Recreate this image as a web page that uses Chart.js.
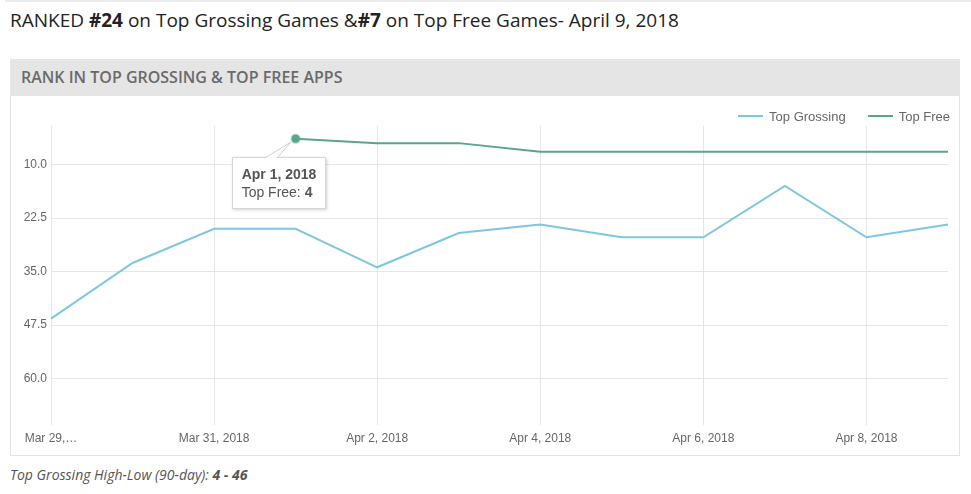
<!DOCTYPE html>
<html>
<head>
<meta charset="utf-8">
<script src="https://cdn.jsdelivr.net/npm/chart.js@4.4.1/dist/chart.umd.min.js"></script>
<style>
  body { margin: 0; background: #fff; width: 971px; height: 494px; position: relative; overflow: hidden; }
  .rule { position: absolute; left: 5px; top: 0; width: 966px; border-top: 2px solid #ececec; }
  .headline { position: absolute; left: 10px; top: 7px; font: 19px "Open Sans", sans-serif; color: #222; white-space: nowrap; }
  .panel-head { position: absolute; left: 10px; top: 59px; width: 950px; height: 37px; background: #e5e5e5; }
  .panel-head span { position: absolute; left: 11px; top: 7px; font: 600 16px "Open Sans", sans-serif; color: #6a6a6a; white-space: nowrap; }
  .panel-body { position: absolute; left: 10px; top: 96px; width: 948px; height: 359px; border: 1px solid #e3e3e3; border-top: none; }
  .chart-box { position: absolute; left: 11px; top: 97px; width: 948px; height: 358px; }
  .legend { position: absolute; top: 107px; right: 21px; font: 13px "Liberation Sans", Arial, sans-serif; color: #666; white-space: nowrap; }
  .legend span { display: inline-block; vertical-align: middle; }
  .legend .swatch { width: 25px; height: 2px; margin-right: 6px; }
  .legend .item { margin-left: 22px; }
  .tip { position: absolute; background: #fff; border: 1px solid #d6d6d6; box-shadow: 1px 1px 3px rgba(0,0,0,0.18);
         padding: 7px 9px; font: 14px/18px "Liberation Sans", Arial, sans-serif; color: #555; white-space: nowrap; pointer-events: none; }
  .tip svg { position: absolute; left: -1px; top: -1px; overflow: visible; }
  .footer { position: absolute; left: 10px; top: 465px; font: italic 14px "Open Sans", sans-serif; color: #555; white-space: nowrap; }
</style>
</head>
<body>
<div class="rule"></div>
<div class="headline">RANKED <b>#24</b> on Top Grossing Games &amp;<b>#7</b> on Top Free Games- April 9, 2018</div>
<div class="panel-head"><span>RANK IN TOP GROSSING &amp; TOP FREE APPS</span></div>
<div class="panel-body"></div>
<div class="chart-box"><canvas id="rankChart"></canvas></div>
<div class="legend" id="rankLegend"></div>
<div class="footer">Top Grossing High-Low (90-day): <b>4 - 46</b></div>

<script>
const dates = ["Mar 29, 2018", "Mar 30, 2018", "Mar 31, 2018", "Apr 1, 2018", "Apr 2, 2018", "Apr 3, 2018",
  "Apr 4, 2018", "Apr 5, 2018", "Apr 6, 2018", "Apr 7, 2018", "Apr 8, 2018", "Apr 9, 2018"];
const topGrossing = [46, 33, 25, 25, 34, 26, 24, 27, 27, 15, 27, 24];
const topFree = [null, null, null, 4, 5, 5, 7, 7, 7, 7, 7, 7];
const rankTicks = [10, 22.5, 35, 47.5, 60];
const seriesNames = ["Top Grossing", "Top Free"];
const seriesColors = ["#7fc6df", "#5ba58a"];

const gridColor = "#e6e6e6";
const tickFont = { family: "Liberation Sans, Arial, sans-serif", size: 12 };

// html legend, same look as the original
const legendBox = document.getElementById("rankLegend");
seriesNames.forEach((name, i) => {
  legendBox.insertAdjacentHTML(
    "beforeend",
    `<span class="item"><span class="swatch" style="background:${seriesColors[i]}"></span><span>${name}</span></span>`
  );
});

// tooltip drawn as html box with a slanted caret
const externalTip = function (context) {
  const tip = context.tooltip;
  let el = document.getElementById("rankTip");
  if (!el) {
    el = document.createElement("div");
    el.id = "rankTip";
    el.className = "tip";
    document.body.appendChild(el);
  }
  if (tip.opacity === 0 || !tip.dataPoints || !tip.dataPoints.length) {
    el.style.display = "none";
    return;
  }
  const dp = tip.dataPoints[0];
  el.innerHTML = `
    <svg width="1" height="1">
      <polygon points="33,1.5 59,-15 45,1.5" fill="#fff" />
      <polyline points="33,1 59,-15 45,1" fill="none" stroke="#cfcfcf" stroke-width="1" />
    </svg>
    <b>${tip.title[0]}</b><br>${dp.dataset.label}: <b>${dp.formattedValue}</b>`;
  const canvasRect = context.chart.canvas.getBoundingClientRect();
  el.style.display = "block";
  el.style.left = canvasRect.left + tip.caretX - 64 + "px";
  el.style.top = canvasRect.top + tip.caretY + 18 + "px";
};

const rankChart = new Chart(document.getElementById("rankChart"), {
  type: "line",
  data: {
    labels: dates,
    datasets: [
      {
        label: seriesNames[0],
        data: topGrossing,
        borderColor: seriesColors[0],
        backgroundColor: seriesColors[0],
        borderWidth: 2,
        fill: false,
        tension: 0,
        pointRadius: 0,
        pointHoverRadius: 4,
      },
      {
        label: seriesNames[1],
        data: topFree,
        borderColor: seriesColors[1],
        backgroundColor: seriesColors[1],
        borderWidth: 2,
        fill: false,
        tension: 0,
        pointRadius: 0,
        pointHoverRadius: 4,
        pointHoverBackgroundColor: seriesColors[1],
        pointHoverBorderColor: "rgba(91,165,138,0.45)",
        pointHoverBorderWidth: 2,
      },
    ],
  },
  options: {
    responsive: true,
    maintainAspectRatio: false,
    animation: false,
    layout: { padding: { top: 29, right: 11, left: 0, bottom: 0 } },
    plugins: {
      legend: { display: false },
      tooltip: { enabled: false, external: externalTip, mode: "nearest", intersect: false },
    },
    scales: {
      x: {
        border: { display: false },
        grid: { color: gridColor, drawTicks: true, tickLength: 10 },
        afterBuildTicks: (scale) => {
          scale.ticks = scale.ticks.filter((t) => t.value % 2 === 0);
        },
        afterFit: (scale) => {
          scale.height = 40;
        },
        ticks: {
          autoSkip: false,
          maxRotation: 0,
          padding: 6,
          color: "#666",
          font: tickFont,
          callback: function (value) {
            const lbl = this.getLabelForValue(value);
            return value === 0 ? lbl.slice(0, 7) + "…" : lbl;
          },
        },
      },
      y: {
        reverse: true,
        min: 1,
        max: 68.5,
        border: { display: false },
        grid: { color: gridColor, drawTicks: false },
        afterBuildTicks: (scale) => {
          scale.ticks = rankTicks.map((v) => ({ value: v }));
        },
        afterFit: (scale) => {
          scale.width = 40;
        },
        ticks: {
          padding: 4,
          color: "#666",
          font: tickFont,
          callback: (v) => Number(v).toFixed(1),
        },
      },
    },
  },
});

// show the Apr 1 point of Top Free as in the screenshot
const active = [{ datasetIndex: 1, index: 3 }];
const pt = rankChart.getDatasetMeta(1).data[3];
rankChart.setActiveElements(active);
rankChart.tooltip.setActiveElements(active, { x: pt.x, y: pt.y });
rankChart.update();
</script>
</body>
</html>
